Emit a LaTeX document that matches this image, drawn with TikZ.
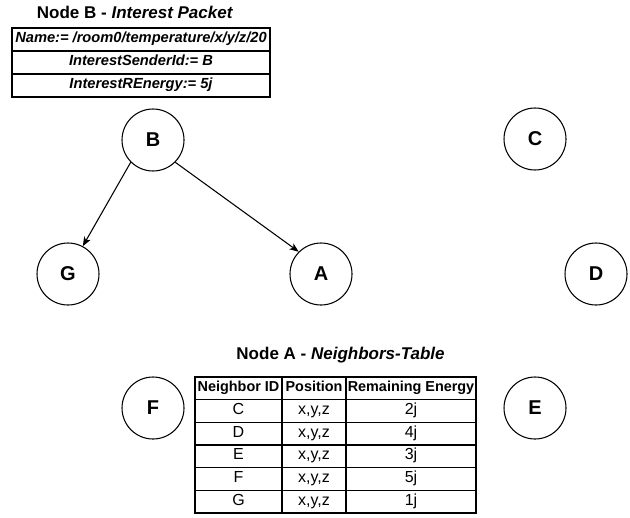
\documentclass[tikz,border=0pt]{standalone}
\usepackage{fontspec}
\setmainfont{Liberation Sans}
\usetikzlibrary{arrows.meta}
\begin{document}
\begin{tikzpicture}[x=0.75pt,y=-0.75pt,
  peer/.style={circle,draw,line width=0.8pt,minimum size=46.5pt,inner sep=0pt,
    font=\fontsize{15}{18}\selectfont\bfseries},
  caption/.style={anchor=base,font=\fontsize{12.75}{15}\selectfont\bfseries},
  field/.style={draw,line width=1.5pt,minimum width=193.5pt,minimum height=17.25pt,
    inner sep=0pt,text height=0.72em,text depth=0.2em,
    font=\fontsize{11}{13}\selectfont\bfseries\itshape},
  cell/.style={draw,line width=1.1pt,minimum height=17pt,inner sep=0pt,
    text height=0.72em,text depth=0.2em,font=\fontsize{12}{14}\selectfont},
  hcell/.style={cell,font=\fontsize{10.8}{13}\selectfont\bfseries},
  colid/.style={minimum width=65.25pt},
  colpos/.style={minimum width=48pt},
  colen/.style={minimum width=97.5pt},
  link/.style={line width=0.8pt,-{Stealth[length=7pt,width=5.5pt,inset=2pt]}}
]
\useasboundingbox (0,0) rectangle (630,517);

% network nodes
\node[peer] (B) at (153,140) {B};
\node[peer] (C) at (535,139) {C};
\node[peer] (G) at (68,274) {G};
\node[peer] (A) at (321,274) {A};
\node[peer] (D) at (596,274) {D};
\node[peer] (F) at (153,408) {F};
\node[peer] (E) at (535,408) {E};

% interest forwarding
\draw[link] (B.-135) -- (G.62);
\draw[link] (B.-45) -- (A.135);

% interest packet sent by B
\node[caption] (pkttitle) at (135,19) {Node B - \textit{Interest Packet}};
\node[field] (pname) at (141,39.5) {Name:= /room0/temperature/x/y/z/20};
\node[field] (psender) at (141,62.5) {InterestSenderId:= B};
\node[field] (penergy) at (141,85.5) {InterestREnergy:= 5j};

% neighbours table kept by A
\node[caption] (tbltitle) at (340.5,359) {Node A - \textit{Neighbors-Table}};
\node[hcell,colid] (hid) at (238.5,388.3) {Neighbor ID};
\node[hcell,colpos] (hpos) at (314,388.3) {Position};
\node[hcell,colen] (hen) at (411,388.3) {Remaining Energy};
\foreach \nb/\en [count=\i] in {C/2j,D/4j,E/3j,F/5j,G/1j} {
  \node[cell,colid] (id\i) at (238.5,{388.3+22.67*\i}) {\nb};
  \node[cell,colpos] (pos\i) at (314,{388.3+22.67*\i}) {x,y,z};
  \node[cell,colen] (en\i) at (411,{388.3+22.67*\i}) {\en};
}
\end{tikzpicture}
\end{document}
